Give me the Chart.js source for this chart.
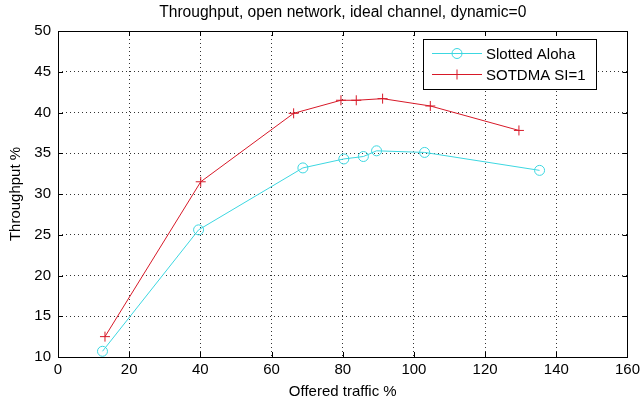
<!DOCTYPE html>
<html>
<head>
<meta charset="utf-8">
<script src="https://cdn.jsdelivr.net/npm/chart.js@4/dist/chart.umd.min.js"></script>
<style>
  html, body { margin: 0; padding: 0; background: #fff; }
  #wrap { width: 644px; height: 402px; position: relative; }
</style>
</head>
<body>
<div id="wrap"><canvas id="c"></canvas></div>
<script>
const chartTitle = "Throughput, open network, ideal channel, dynamic=0";
const xAxisTitle = "Offered traffic %";
const yAxisTitle = "Throughput %";
const seriesNames = ["Slotted Aloha", "SOTDMA SI=1"];
const xTicks = [0, 20, 40, 60, 80, 100, 120, 140, 160];
const yTicks = [10, 15, 20, 25, 30, 35, 40, 45, 50];

const alohaX = [12.5, 39.5, 68.8, 80.3, 85.8, 89.5, 103.0, 135.3];
const alohaY = [10.7, 25.6, 33.2, 34.3, 34.6, 35.3, 35.1, 32.9];
const sotdmaX = [13.2, 40.1, 66.2, 79.5, 83.8, 91.2, 104.6, 129.5];
const sotdmaY = [12.5, 31.5, 39.9, 41.5, 41.5, 41.7, 40.8, 37.8];

const CYAN = 'rgb(60,215,225)';
const RED = 'rgb(215,25,40)';
const FONT = "'Liberation Sans', Arial, Helvetica, sans-serif";

function pts(xs, ys) { return xs.map((x, i) => ({ x: x, y: ys[i] })); }

const frame = {
  id: 'frame',
  afterDraw(chart) {
    const ctx = chart.ctx;
    const a = chart.chartArea;
    const xs = chart.scales.x, ys = chart.scales.y;
    ctx.save();

    // title centred over the axes box (MATLAB style)
    ctx.fillStyle = '#000';
    ctx.font = '15.6px ' + FONT;
    ctx.textAlign = 'center';
    ctx.textBaseline = 'middle';
    ctx.fillText(chartTitle, (a.left + a.right) / 2, 13);

    ctx.strokeStyle = '#000';
    ctx.lineWidth = 1;
    ctx.setLineDash([]);
    const L = 5;
    ctx.beginPath();
    xTicks.forEach(v => {
      const px = Math.round(xs.getPixelForValue(v)) + 0.5;
      ctx.moveTo(px, a.bottom); ctx.lineTo(px, a.bottom - L);
      ctx.moveTo(px, a.top); ctx.lineTo(px, a.top + L);
    });
    yTicks.forEach(v => {
      const py = Math.round(ys.getPixelForValue(v)) + 0.5;
      ctx.moveTo(a.left, py); ctx.lineTo(a.left + L, py);
      ctx.moveTo(a.right, py); ctx.lineTo(a.right - L, py);
    });
    ctx.stroke();
    ctx.strokeRect(Math.round(a.left) + 0.5, Math.round(a.top) + 0.5,
                   Math.round(a.right - a.left), Math.round(a.bottom - a.top));

    // legend box
    const bx = 423, by = 39, bw = 173, bh = 50;
    ctx.fillStyle = '#fff';
    ctx.fillRect(bx, by, bw, bh);
    ctx.strokeRect(bx + 0.5, by + 0.5, bw, bh);
    const rows = [
      { y: 53.5, color: CYAN, marker: 'circle', name: seriesNames[0] },
      { y: 74.5, color: RED, marker: 'cross', name: seriesNames[1] }
    ];
    ctx.font = '15px ' + FONT;
    ctx.textBaseline = 'middle';
    ctx.textAlign = 'left';
    rows.forEach(r => {
      ctx.strokeStyle = r.color;
      ctx.beginPath();
      ctx.moveTo(432, r.y); ctx.lineTo(482, r.y);
      ctx.stroke();
      if (r.marker === 'circle') {
        ctx.beginPath();
        ctx.arc(457, r.y, 5, 0, Math.PI * 2);
        ctx.stroke();
      } else {
        ctx.beginPath();
        ctx.moveTo(457, r.y - 5); ctx.lineTo(457, r.y + 5);
        ctx.stroke();
      }
      ctx.fillStyle = '#000';
      ctx.fillText(r.name, 486, r.y + 1);
    });
    ctx.restore();
  }
};

new Chart(document.getElementById('c'), {
  type: 'scatter',
  data: {
    datasets: [
      {
        label: seriesNames[0],
        data: pts(alohaX, alohaY),
        showLine: true,
        borderColor: CYAN,
        backgroundColor: 'rgba(0,0,0,0)',
        borderWidth: 1,
        pointStyle: 'circle',
        pointRadius: 5,
        pointBorderWidth: 1,
        pointBorderColor: CYAN,
        pointBackgroundColor: 'rgba(0,0,0,0)',
        tension: 0
      },
      {
        label: seriesNames[1],
        data: pts(sotdmaX, sotdmaY),
        showLine: true,
        borderColor: RED,
        backgroundColor: 'rgba(0,0,0,0)',
        borderWidth: 1,
        pointStyle: 'cross',
        pointRadius: 5,
        pointBorderWidth: 1,
        pointBorderColor: RED,
        tension: 0
      }
    ]
  },
  options: {
    responsive: true,
    maintainAspectRatio: false,
    animation: false,
    devicePixelRatio: 1,
    layout: { padding: { left: 0, right: 12, top: 31, bottom: 0 } },
    plugins: {
      legend: { display: false },
      tooltip: { enabled: false },
      title: { display: false }
    },
    scales: {
      x: {
        type: 'linear',
        min: 0, max: 160,
        afterBuildTicks(s) { s.ticks = xTicks.map(v => ({ value: v })); },
        afterFit(s) { s.height = 45; },
        ticks: {
          color: '#000',
          font: { family: FONT, size: 15 },
          padding: 4,
          maxRotation: 0,
          autoSkip: false
        },
        grid: {
          color: '#333',
          lineWidth: 1,
          drawTicks: false,
          tickLength: 0
        },
        border: { display: false, dash: [1, 3] },
        title: {
          display: true,
          text: xAxisTitle,
          color: '#000',
          font: { family: FONT, size: 15, lineHeight: 1.2 },
          padding: { top: 0, bottom: 1 }
        }
      },
      y: {
        type: 'linear',
        min: 10, max: 50,
        afterBuildTicks(s) { s.ticks = yTicks.map(v => ({ value: v })); },
        afterFit(s) { s.width = 58; },
        ticks: {
          color: '#000',
          font: { family: FONT, size: 15 },
          padding: 7,
          autoSkip: false
        },
        grid: {
          color: '#333',
          lineWidth: 1,
          drawTicks: false,
          tickLength: 0
        },
        border: { display: false, dash: [1, 3] },
        title: {
          display: true,
          text: yAxisTitle,
          color: '#000',
          font: { family: FONT, size: 15, lineHeight: 1.2 },
          padding: { top: 7, bottom: 0 }
        }
      }
    }
  },
  plugins: [frame]
});
</script>
</body>
</html>
